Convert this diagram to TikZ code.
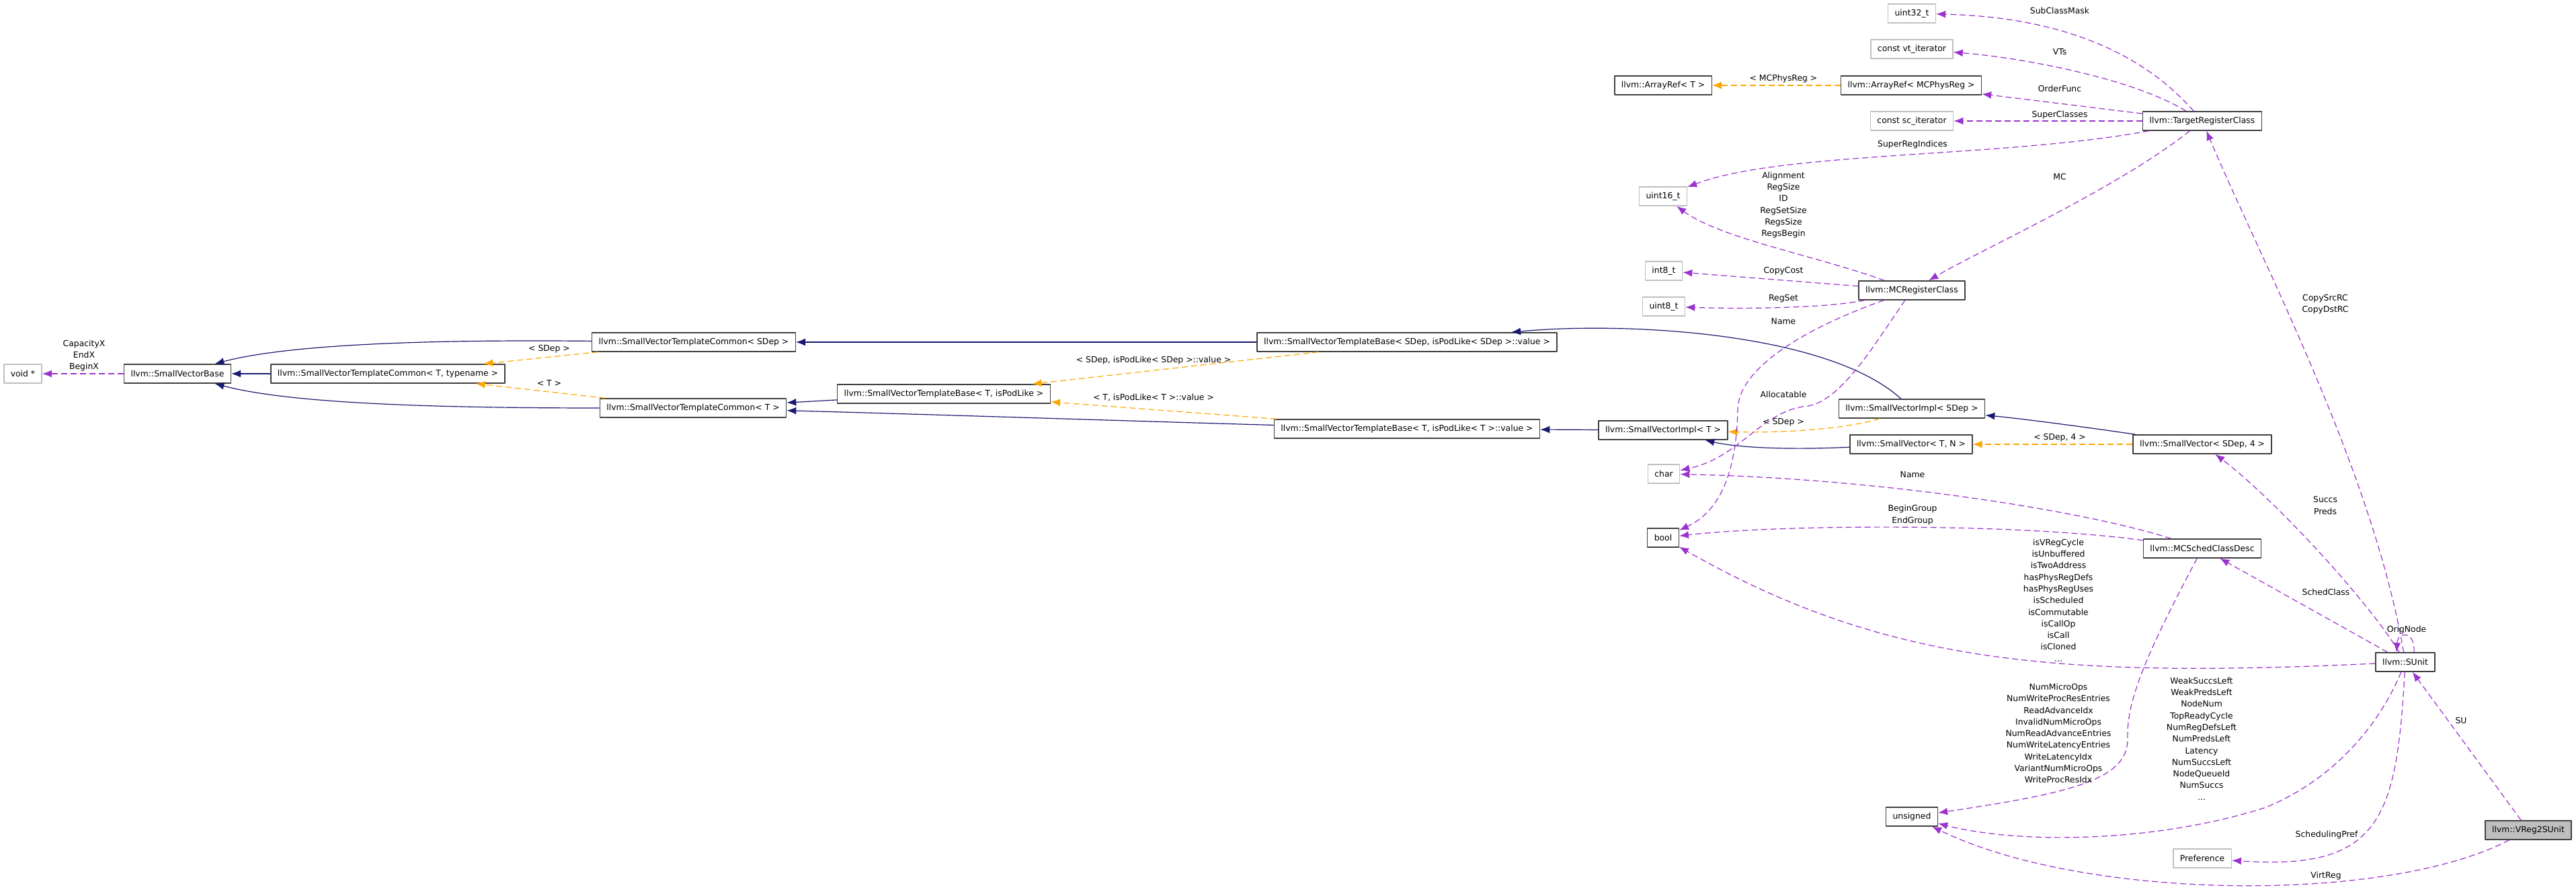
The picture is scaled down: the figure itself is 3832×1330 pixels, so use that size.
\documentclass[tikz,border=0pt]{standalone}
\usepackage{fontspec}
\setmainfont{DejaVu Sans}
\usetikzlibrary{arrows.meta}
\definecolor{navyline}{RGB}{25,25,112}
\definecolor{templorange}{RGB}{255,165,0}
\definecolor{usepurple}{RGB}{154,50,205}
\definecolor{extgray}{RGB}{191,191,191}
\newcommand{\graphfont}{\fontsize{12.4bp}{17.3bp}\selectfont}
\begin{document}
\begin{tikzpicture}[>={Latex[length=14bp,width=11bp]},line join=bevel,
  classbox/.style={draw=black!75,line width=1.4bp,fill=white,minimum height=28bp,inner xsep=10bp,inner ysep=0pt,font=\graphfont},
  extbox/.style={classbox,draw=extgray},
  focusbox/.style={classbox,fill=extgray},
  inheritedge/.style={navyline,line width=1.2bp,->},
  templedge/.style={templorange,line width=1.2bp,dash pattern=on 9bp off 5bp,->},
  useedge/.style={usepurple,line width=1.2bp,dash pattern=on 9bp off 5bp,->},
  edgelabel/.style={align=center,inner sep=0pt,font=\graphfont}]
\useasboundingbox (0bp,0bp) rectangle (3832bp,1330bp);
%%
\node (node_voidp) at (34bp,774bp) [extbox] {void *};
  \node (node_svbase) at (264bp,774bp) [classbox] {llvm::SmallVectorBase};
  \node (node_svtctn) at (577bp,774bp) [classbox] {llvm::SmallVectorTemplateCommon< T, typename >};
  \node (node_svtcsdep) at (1032bp,821bp) [classbox] {llvm::SmallVectorTemplateCommon< SDep >};
  \node (node_svtct) at (1031bp,723bp) [classbox] {llvm::SmallVectorTemplateCommon< T >};
  \node (node_svtbtpod) at (1404bp,744bp) [classbox] {llvm::SmallVectorTemplateBase< T, isPodLike >};
  \node (node_svtbsdep) at (2093bp,821bp) [classbox] {llvm::SmallVectorTemplateBase< SDep, isPodLike< SDep >::value >};
  \node (node_svtbt) at (2093bp,692bp) [classbox] {llvm::SmallVectorTemplateBase< T, isPodLike< T >::value >};
  \node (node_arrayreft) at (2474bp,1203bp) [classbox] {llvm::ArrayRef< T >};
  \node (node_uint16) at (2474bp,1038bp) [extbox] {uint16\_t};
  \node (node_int8) at (2475bp,927bp) [extbox] {int8\_t};
  \node (node_uint8) at (2475bp,874bp) [extbox] {uint8\_t};
  \node (node_svimplt) at (2474bp,690bp) [classbox] {llvm::SmallVectorImpl< T >};
  \node (node_char) at (2475bp,625bp) [extbox] {char};
  \node (node_bool) at (2474bp,530bp) [classbox] {bool};
  \node (node_uint32) at (2844bp,1310bp) [extbox] {uint32\_t};
  \node (node_vtiter) at (2844bp,1257bp) [extbox] {const vt\_iterator};
  \node (node_arrayrefmc) at (2843bp,1203bp) [classbox] {llvm::ArrayRef< MCPhysReg >};
  \node (node_sciter) at (2844bp,1150bp) [extbox] {const sc\_iterator};
  \node (node_mcrc) at (2844bp,898bp) [classbox] {llvm::MCRegisterClass};
  \node (node_svimplsdep) at (2844bp,722bp) [classbox] {llvm::SmallVectorImpl< SDep >};
  \node (node_svtn) at (2843bp,669bp) [classbox] {llvm::SmallVector< T, N >};
  \node (node_unsigned) at (2844bp,115bp) [classbox] {unsigned};
  \node (node_trc) at (3276bp,1150bp) [classbox] {llvm::TargetRegisterClass};
  \node (node_svsdep4) at (3276bp,669bp) [classbox] {llvm::SmallVector< SDep, 4 >};
  \node (node_mcsd) at (3276bp,514bp) [classbox] {llvm::MCSchedClassDesc};
  \node (node_pref) at (3276bp,53bp) [extbox] {Preference};
  \node (node_sunit) at (3578bp,345bp) [classbox] {llvm::SUnit};
  \node (node_vreg) at (3761bp,95bp) [focusbox] {llvm::VReg2SUnit};
%% base classes
  \draw [inheritedge] (node_svtctn) -- (node_svbase);
  \draw [inheritedge] (node_svtcsdep) ..controls (640bp,825bp) and (430bp,818bp)  .. (node_svbase);
  \draw [inheritedge] (node_svtct) ..controls (640bp,723bp) and (430bp,730bp)  .. (node_svbase);
  \draw [inheritedge] (node_svtbsdep) -- (node_svtcsdep);
  \draw [inheritedge] (node_svtbtpod) -- (node_svtct);
  \draw [inheritedge] (node_svtbt) ..controls (1700bp,703bp) and (1400bp,713bp)  .. (node_svtct);
  \draw [inheritedge] (node_svimplt) -- (node_svtbt);
  \draw [inheritedge] (node_svimplsdep) ..controls (2720bp,835bp) and (2420bp,852bp)  .. (node_svtbsdep);
  \draw [inheritedge] (node_svtn) ..controls (2650bp,660bp) and (2580bp,665bp)  .. (node_svimplt);
  \draw [inheritedge] (node_svsdep4) ..controls (3100bp,695bp) and (3000bp,708bp)  .. (node_svimplsdep);
%% template instances
  \draw [templedge] (node_svtcsdep) -- (node_svtctn);
  \draw [templedge] (node_svtct) -- (node_svtctn);
  \draw [templedge] (node_svtbsdep) -- (node_svtbtpod);
  \draw [templedge] (node_svtbt) -- (node_svtbtpod);
  \draw [templedge] (node_arrayrefmc) -- (node_arrayreft);
  \draw [templedge] (node_svimplsdep) ..controls (2740bp,690bp) and (2640bp,686bp)  .. (node_svimplt);
  \draw [templedge] (node_svsdep4) -- (node_svtn);
%% members
  \draw [useedge] (node_svbase) -- (node_voidp);
  \draw [useedge] (node_trc) ..controls (3180bp,1260bp) and (3050bp,1305bp)  .. (node_uint32);
  \draw [useedge] (node_trc) ..controls (3170bp,1215bp) and (3000bp,1245bp)  .. (node_vtiter);
  \draw [useedge] (node_trc) -- (node_arrayrefmc);
  \draw [useedge] (node_trc) -- (node_sciter);
  \draw [useedge] (node_trc) ..controls (2980bp,1095bp) and (2650bp,1105bp)  .. (node_uint16);
  \draw [useedge] (node_trc) ..controls (3150bp,1050bp) and (2950bp,960bp)  .. (node_mcrc);
  \draw [useedge] (node_mcrc) ..controls (2700bp,950bp) and (2560bp,975bp)  .. (node_uint16);
  \draw [useedge] (node_mcrc) -- (node_int8);
  \draw [useedge] (node_mcrc) ..controls (2720bp,872bp) and (2600bp,870bp)  .. (node_uint8);
  \draw [useedge] (node_mcrc) ..controls (2680bp,840bp) and (2585bp,780bp)  .. (2585bp,720bp)
    ..controls (2583bp,630bp) and (2560bp,570bp)  .. (node_bool);
  \draw [useedge] (node_mcrc) ..controls (2790bp,820bp) and (2740bp,735bp)  .. (2690bp,726bp)
    ..controls (2620bp,720bp) and (2590bp,650bp)  .. (node_char);
  \draw [useedge] (node_mcsd) ..controls (3100bp,570bp) and (2800bp,618bp)  .. (node_char);
  \draw [useedge] (node_mcsd) ..controls (3000bp,552bp) and (2650bp,550bp)  .. (node_bool);
  \draw [useedge] (node_sunit) ..controls (3050bp,320bp) and (2800bp,345bp)  .. (node_bool);
  \draw [useedge] (node_sunit) ..controls (3530bp,230bp) and (3450bp,160bp)  .. (3368bp,128bp)
    ..controls (3200bp,75bp) and (3000bp,75bp)  .. (node_unsigned);
  \draw [useedge] (node_mcsd) ..controls (3200bp,370bp) and (3162bp,290bp)  .. (3165bp,230bp)
    ..controls (3165bp,170bp) and (3080bp,150bp)  .. (node_unsigned);
  \draw [useedge] (node_sunit) ..controls (3530bp,630bp) and (3360bp,950bp)  .. (node_trc);
  \draw [useedge] (node_sunit) ..controls (3520bp,440bp) and (3380bp,590bp)  .. (node_svsdep4);
  \draw [useedge] (node_sunit) -- (node_mcsd);
  \draw [useedge] ([xshift=13bp]node_sunit.north) ..controls +(2bp,32bp) and +(2bp,32bp)  .. ([xshift=-13bp]node_sunit.north);
  \draw [useedge] (node_sunit) ..controls (3565bp,110bp) and (3540bp,35bp)  .. (node_pref);
  \draw [useedge] (node_vreg) -- (node_sunit);
  \draw [useedge] (node_vreg) ..controls (3550bp,-15bp) and (3100bp,-10bp)  .. (node_unsigned);
%% labels
  \node (lbl_capacity) at (125bp,801bp) [edgelabel] {CapacityX\\EndX\\BeginX};
  \node (lbl_tcsdep) at (817bp,811bp) [edgelabel] {< SDep >};
  \node (lbl_tct) at (817bp,760bp) [edgelabel] {< T >};
  \node (lbl_tbsdep) at (1716bp,794bp) [edgelabel] {< SDep, isPodLike< SDep >::value >};
  \node (lbl_tbt) at (1716bp,738bp) [edgelabel] {< T, isPodLike< T >::value >};
  \node (lbl_mcphysreg) at (2653bp,1213bp) [edgelabel] {< MCPhysReg >};
  \node (lbl_subclassmask) at (3064bp,1314bp) [edgelabel] {SubClassMask};
  \node (lbl_vts) at (3064bp,1253bp) [edgelabel] {VTs};
  \node (lbl_orderfunc) at (3064bp,1198bp) [edgelabel] {OrderFunc};
  \node (lbl_superclasses) at (3064bp,1159bp) [edgelabel] {SuperClasses};
  \node (lbl_superregidx) at (2845bp,1115bp) [edgelabel] {SuperRegIndices};
  \node (lbl_mc) at (3064bp,1067bp) [edgelabel] {MC};
  \node (lbl_alignment) at (2653bp,1025bp) [edgelabel] {Alignment\\RegSize\\ID\\RegSetSize\\RegsSize\\RegsBegin};
  \node (lbl_copycost) at (2653bp,927bp) [edgelabel] {CopyCost};
  \node (lbl_regset) at (2653bp,886bp) [edgelabel] {RegSet};
  \node (lbl_mcname) at (2653bp,852bp) [edgelabel] {Name};
  \node (lbl_allocatable) at (2653bp,743bp) [edgelabel] {Allocatable};
  \node (lbl_implsdep) at (2653bp,702bp) [edgelabel] {< SDep >};
  \node (lbl_sdep4) at (3064bp,679bp) [edgelabel] {< SDep, 4 >};
  \node (lbl_schedname) at (2845bp,624bp) [edgelabel] {Name};
  \node (lbl_group) at (2845bp,564bp) [edgelabel] {BeginGroup\\EndGroup};
  \node (lbl_copyrc) at (3459bp,877bp) [edgelabel] {CopySrcRC\\CopyDstRC};
  \node (lbl_succs) at (3459bp,578bp) [edgelabel] {Succs\\Preds};
  \node (lbl_schedclass) at (3460bp,449bp) [edgelabel] {SchedClass};
  \node (lbl_orignode) at (3580bp,393bp) [edgelabel] {OrigNode};
  \node (lbl_flags) at (3062bp,437bp) [edgelabel] {isVRegCycle\\isUnbuffered\\isTwoAddress\\hasPhysRegDefs\\hasPhysRegUses\\isScheduled\\isCommutable\\isCallOp\\isCall\\isCloned\\...};
  \node (lbl_microops) at (3062bp,239bp) [edgelabel] {NumMicroOps\\NumWriteProcResEntries\\ReadAdvanceIdx\\InvalidNumMicroOps\\NumReadAdvanceEntries\\NumWriteLatencyEntries\\WriteLatencyIdx\\VariantNumMicroOps\\WriteProcResIdx};
  \node (lbl_counts) at (3275bp,231bp) [edgelabel] {WeakSuccsLeft\\WeakPredsLeft\\NodeNum\\TopReadyCycle\\NumRegDefsLeft\\NumPredsLeft\\Latency\\NumSuccsLeft\\NodeQueueId\\NumSuccs\\...};
  \node (lbl_su) at (3661bp,258bp) [edgelabel] {SU};
  \node (lbl_schedpref) at (3461bp,88bp) [edgelabel] {SchedulingPref};
  \node (lbl_virtreg) at (3460bp,27bp) [edgelabel] {VirtReg};
%
\end{tikzpicture}
\end{document}
